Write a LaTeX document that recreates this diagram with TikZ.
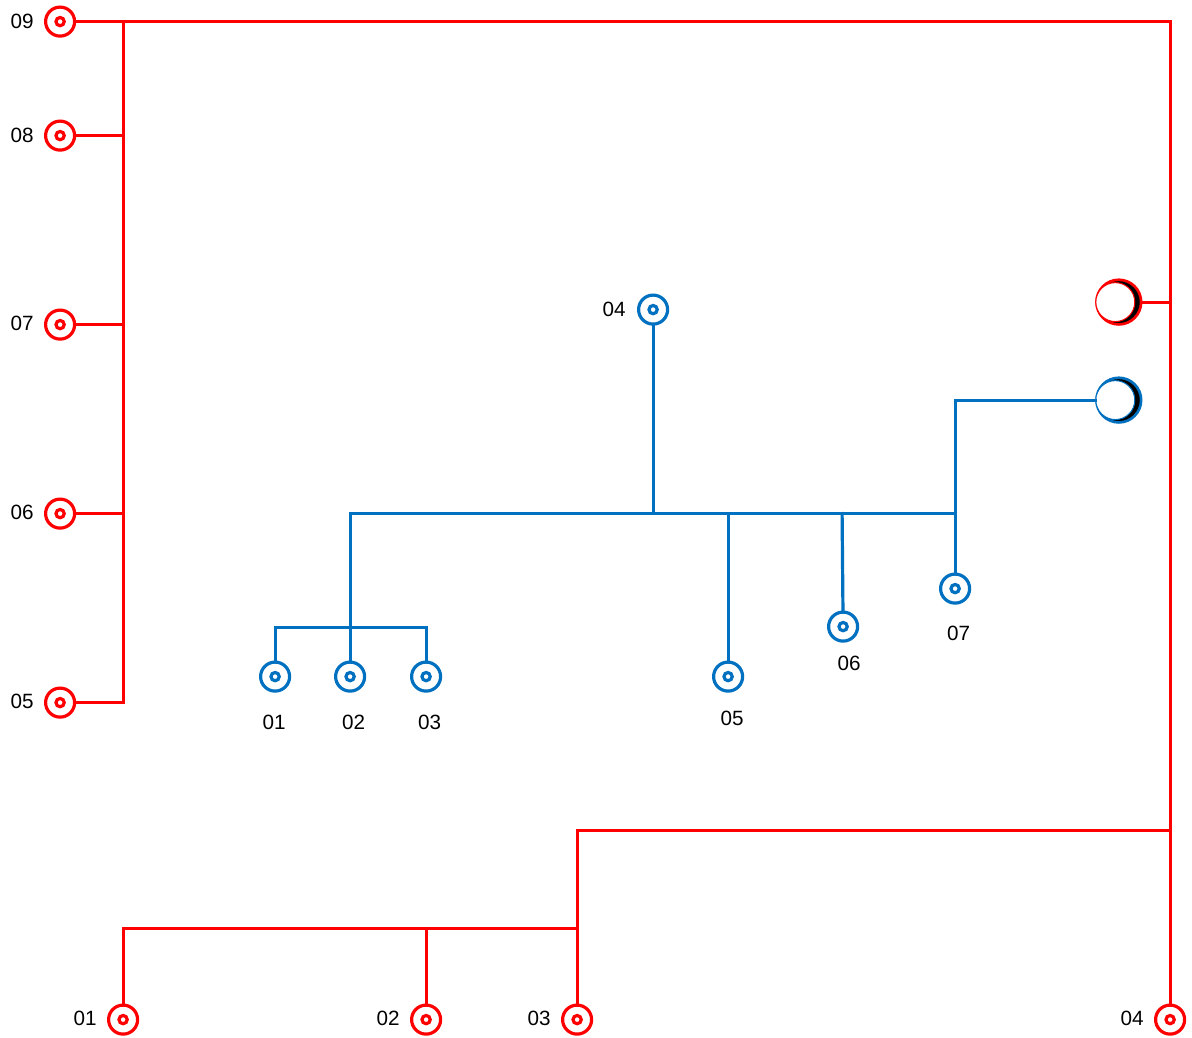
\documentclass[tikz,border=0pt]{standalone}
\usepackage{fontspec}
\setmainfont{Liberation Sans}
\definecolor{netred}{HTML}{FF0000}
\definecolor{netblue}{HTML}{0070C0}
\begin{document}
\begin{tikzpicture}[
        x=0.75pt, y=-0.75pt,
        wire/.style={line width=2.4pt, line cap=rect},
        port/.style={circle, draw, line width=2.4pt, fill=white, inner sep=0pt, minimum size=21.75pt},
        hole/.style={circle, draw, line width=2.4pt, fill=white, inner sep=0pt, minimum size=6.2pt},
        moonback/.style={circle, draw, line width=2pt, fill=black, inner sep=0pt, minimum size=33.5pt},
        moonface/.style={circle, draw, line width=0.75pt, fill=white, inner sep=0pt, minimum size=29.2pt},
        tag/.style={font=\fontsize{15.5}{18}\selectfont, inner sep=0pt}
    ]
    \useasboundingbox (-0.1,-0.6) rectangle (1191.9,1037.4);

    % red ports and labels
    \foreach \name/\x/\y/\lx/\ly/\txt in {a09/60/21/22/21/09, a08/60/135/22/135/08, a07/60/324/22/323/07,
        a06/60/513/22/512/06, a05/60/702/22/701/05, a01/123/1019/85/1018/01,
        a02/426/1019/388/1018/02, a03/577/1019/539/1018/03, a04/1170/1019/1132/1018/04} {
        \node[port, draw=netred] (\name) at (\x,\y) {};
        \node[hole, draw=netred] (\name h) at (\name) {};
        \node[tag] (\name t) at (\lx,\ly) {\txt};
    }

    % blue ports and labels
    \foreach \name/\x/\y/\lx/\ly/\txt in {b01/275/676/274/722/01, b02/350/676/353.5/722/02, b03/426/676/429.5/722/03,
        b04/653/309/614/309/04, b05/728/676/732/718/05, b06/843/626/849/663/06, b07/955/588/958.5/633/07} {
        \node[port, draw=netblue] (\name) at (\x,\y) {};
        \node[hole, draw=netblue] (\name h) at (\name) {};
        \node[tag] (\name t) at (\lx,\ly) {\txt};
    }

    % moons
    \node[moonback, draw=netred] (amoon) at (1118.7,301.5) {};
    \node[moonface, draw=netred] (amoonf) at (1115.2,301.5) {};
    \node[moonback, draw=netblue] (bmoon) at (1118.7,399.5) {};
    \node[moonface, draw=netblue] (bmoonf) at (1115.2,399.5) {};

    % red junctions
    \coordinate (atl) at (123,21);
    \coordinate (atr) at (1170,21);
    \coordinate (a08j) at (123,135);
    \coordinate (a07j) at (123,324);
    \coordinate (a06j) at (123,513);
    \coordinate (a05j) at (123,702);
    \coordinate (amoonj) at (1170,301.5);
    \coordinate (abr) at (1170,830);
    \coordinate (abl) at (577,830);
    \coordinate (a03j) at (577,928);
    \coordinate (a02j) at (426,928);
    \coordinate (a01j) at (123,928);

    % red net
    \draw[wire, netred] (a09) -- (atr) -- (a04);
    \draw[wire, netred] (atl) -- (a05j) -- (a05);
    \draw[wire, netred] (a08) -- (a08j);
    \draw[wire, netred] (a07) -- (a07j);
    \draw[wire, netred] (a06) -- (a06j);
    \draw[wire, netred] (amoon) -- (amoonj);
    \draw[wire, netred] (abr) -- (abl) -- (a03);
    \draw[wire, netred] (a03j) -- (a01j) -- (a01);
    \draw[wire, netred] (a02j) -- (a02);

    % blue junctions
    \coordinate (bl) at (350,513);
    \coordinate (br) at (955,513);
    \coordinate (b04j) at (653,513);
    \coordinate (b05j) at (728,513);
    \coordinate (b06j) at (842,513);
    \coordinate (bup) at (955,399.5);
    \coordinate (bfl) at (275,627);
    \coordinate (bfr) at (426,627);

    % blue net
    \draw[wire, netblue] (bl) -- (br);
    \draw[wire, netblue] (b04) -- (b04j);
    \draw[wire, netblue] (b05) -- (b05j);
    \draw[wire, netblue] (b06) -- (b06j);
    \draw[wire, netblue] (b07) -- (bup) -- (bmoonf);
    \draw[wire, netblue] (b02) -- (bl);
    \draw[wire, netblue] (b01) -- (bfl) -- (bfr) -- (b03);

\end{tikzpicture}
\end{document}
